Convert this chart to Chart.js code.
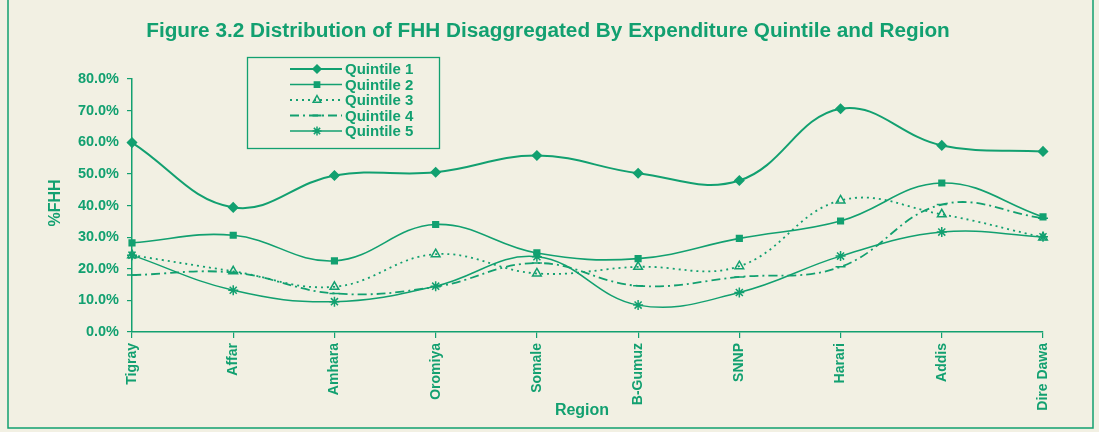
<!DOCTYPE html>
<html>
<head>
<meta charset="utf-8">
<script src="https://cdn.jsdelivr.net/npm/chart.js@4/dist/chart.umd.min.js"></script>
<style>
  html, body { margin: 0; padding: 0; background: #f2f0e3; }
  #wrap { width: 1099px; height: 432px; position: relative; }
</style>
</head>
<body>
<div id="wrap"><canvas id="c" width="1099" height="432"></canvas></div>
<script>
// ---- data ----
const regions = ['Tigray', 'Affar', 'Amhara', 'Oromiya', 'Somale', 'B-Gumuz', 'SNNP', 'Harari', 'Addis', 'Dire Dawa'];
const quintile1 = [59.9, 39.4, 49.5, 50.5, 55.8, 50.2, 47.9, 70.6, 59.0, 57.1];
const quintile2 = [28.2, 30.6, 22.5, 34.0, 25.0, 23.2, 29.6, 35.1, 47.1, 36.4];
const quintile3 = [24.3, 19.2, 14.3, 24.6, 18.5, 20.6, 20.8, 41.6, 37.2, 29.9];
const quintile4 = [18.0, 18.8, 12.2, 14.3, 21.8, 14.6, 17.4, 20.6, 40.3, 36.0];
const quintile5 = [24.3, 13.2, 9.6, 14.5, 23.8, 8.5, 12.5, 24.0, 31.6, 30.1];
const seriesNames = ['Quintile 1', 'Quintile 2', 'Quintile 3', 'Quintile 4', 'Quintile 5'];
const yTickValues = [0, 10, 20, 30, 40, 50, 60, 70, 80];
const chartTitle = 'Figure 3.2 Distribution of FHH Disaggregated By Expenditure Quintile and Region';
const yAxisTitle = '%FHH';
const xAxisTitle = 'Region';

// ---- style ----
const GREEN = '#12a070';
const PAPER = '#f2f0e3';
const FONT = 'Arial, "Liberation Sans", sans-serif';

const styles = [
  { pointStyle: 'rectRot', dash: [], width: 2, fill: true, r: 4.5 },
  { pointStyle: 'rect', dash: [], width: 1.6, fill: true, r: 4 },
  { pointStyle: 'triangle', dash: [2, 4], width: 1.8, fill: false, r: 5 },
  { pointStyle: 'line', dash: [9, 4, 2, 4], width: 1.8, fill: false, r: 5 },
  { pointStyle: 'star', dash: [], width: 1.5, fill: false, r: 5 }
];
const allData = [quintile1, quintile2, quintile3, quintile4, quintile5];

const datasets = allData.map((d, i) => ({
  label: seriesNames[i],
  data: d,
  borderColor: GREEN,
  backgroundColor: styles[i].fill ? GREEN : 'rgba(0,0,0,0)',
  borderWidth: styles[i].width,
  borderDash: styles[i].dash,
  pointStyle: styles[i].pointStyle,
  pointRadius: styles[i].r,
  pointBorderColor: GREEN,
  pointBackgroundColor: styles[i].fill ? GREEN : 'rgba(0,0,0,0)',
  pointBorderWidth: 1.5,
  tension: 0.4,
  fill: false
}));

function drawMarker(ctx, style, x, y, r) {
  ctx.save();
  ctx.setLineDash([]);
  ctx.strokeStyle = GREEN;
  ctx.fillStyle = GREEN;
  ctx.lineWidth = 1.5;
  ctx.beginPath();
  if (style === 'rectRot') {
    ctx.moveTo(x, y - r); ctx.lineTo(x + r, y); ctx.lineTo(x, y + r); ctx.lineTo(x - r, y); ctx.closePath();
    ctx.fill(); ctx.stroke();
  } else if (style === 'rect') {
    ctx.rect(x - r * 0.75, y - r * 0.75, r * 1.5, r * 1.5); ctx.fill(); ctx.stroke();
  } else if (style === 'triangle') {
    ctx.moveTo(x, y - r); ctx.lineTo(x + r * 0.85, y + r * 0.5); ctx.lineTo(x - r * 0.85, y + r * 0.5); ctx.closePath();
    ctx.stroke();
  } else if (style === 'line') {
    ctx.moveTo(x - r, y); ctx.lineTo(x + r, y); ctx.lineWidth = 2; ctx.stroke();
  } else if (style === 'star') {
    ctx.moveTo(x - r, y); ctx.lineTo(x + r, y);
    ctx.moveTo(x, y - r); ctx.lineTo(x, y + r);
    const d = r * 0.7;
    ctx.moveTo(x - d, y - d); ctx.lineTo(x + d, y + d);
    ctx.moveTo(x - d, y + d); ctx.lineTo(x + d, y - d);
    ctx.stroke();
  }
  ctx.restore();
}

const decor = {
  id: 'decor',
  beforeDraw(chart) {
    const ctx = chart.ctx;
    ctx.save();
    ctx.fillStyle = PAPER;
    ctx.fillRect(0, 0, chart.width, chart.height);
    ctx.restore();
  },
  afterDraw(chart) {
    const ctx = chart.ctx;
    ctx.save();
    // frame
    ctx.strokeStyle = GREEN;
    ctx.lineWidth = 1.5;
    ctx.beginPath();
    ctx.moveTo(8, 0); ctx.lineTo(8, 428); ctx.lineTo(1093, 428); ctx.lineTo(1093, 0);
    ctx.stroke();

    // title (fit to width)
    let size = 18;
    ctx.font = 'bold ' + size + 'px ' + FONT;
    const w = ctx.measureText(chartTitle).width;
    size = size * 804 / w;
    ctx.font = 'bold ' + size.toFixed(2) + 'px ' + FONT;
    ctx.fillStyle = GREEN;
    ctx.textAlign = 'center';
    ctx.textBaseline = 'middle';
    ctx.fillText(chartTitle, 548, 31);

    // legend box
    ctx.lineWidth = 1.3;
    ctx.strokeRect(247.5, 57.5, 192, 91);
    ctx.font = 'bold 15px ' + FONT;
    ctx.textAlign = 'left';
    for (let i = 0; i < seriesNames.length; i++) {
      const y = 69 + i * 15.5;
      ctx.save();
      ctx.lineWidth = styles[i].width;
      ctx.setLineDash(styles[i].dash);
      ctx.beginPath();
      ctx.moveTo(290, y); ctx.lineTo(342, y);
      ctx.stroke();
      ctx.restore();
      drawMarker(ctx, styles[i].pointStyle, 317, y, styles[i].r - 0.5);
      ctx.fillText(seriesNames[i], 345, y + 1);
    }

    // axis titles
    ctx.font = 'bold 16px ' + FONT;
    ctx.textAlign = 'center';
    ctx.fillText(xAxisTitle, 582, 411);
    ctx.save();
    ctx.translate(56, 203);
    ctx.rotate(-Math.PI / 2);
    ctx.fillText(yAxisTitle, 0, 0);
    ctx.restore();
    ctx.restore();
  }
};

new Chart(document.getElementById('c'), {
  type: 'line',
  data: { labels: regions, datasets },
  plugins: [decor],
  options: {
    responsive: false,
    animation: false,
    devicePixelRatio: 1,
    layout: { padding: { top: 79, right: 56, bottom: 0, left: 1 } },
    plugins: { legend: { display: false }, title: { display: false }, tooltip: { enabled: false } },
    scales: {
      x: {
        type: 'category',
        offset: false,
        afterFit(scale) { scale.height = 100; },
        grid: { display: true, drawOnChartArea: false, drawTicks: true, tickLength: 6, color: GREEN, lineWidth: 1.2 },
        border: { display: true, color: GREEN, width: 1.5 },
        ticks: {
          color: GREEN,
          font: { family: FONT, size: 14, weight: 'bold' },
          minRotation: 90, maxRotation: 90,
          autoSkip: false,
          padding: 5
        }
      },
      y: {
        min: 0, max: 80,
        afterFit(scale) { scale.width = 131; },
        afterBuildTicks(scale) { scale.ticks = yTickValues.map(v => ({ value: v })); },
        grid: { display: true, drawOnChartArea: false, drawTicks: true, tickLength: 5, color: GREEN, lineWidth: 1.2 },
        border: { display: true, color: GREEN, width: 1.5 },
        ticks: {
          color: GREEN,
          font: { family: FONT, size: 14.5, weight: 'bold' },
          padding: 8,
          callback: v => v.toFixed(1) + '%'
        }
      }
    }
  }
});
</script>
</body>
</html>
